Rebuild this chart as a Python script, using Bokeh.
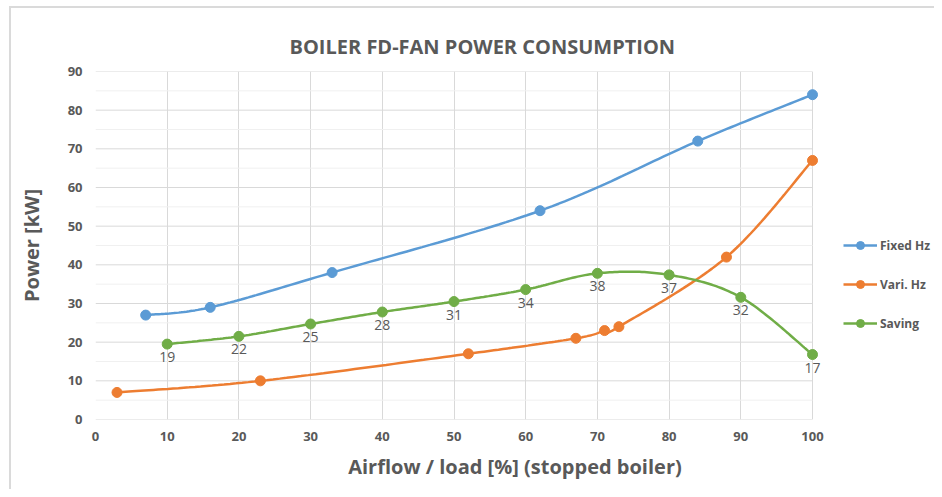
import numpy as np
from bokeh.plotting import figure
from bokeh.models import Legend, LegendItem, ColumnDataSource, LabelSet, FixedTicker, Range1d
from bokeh.core.properties import value
from bokeh.embed import file_html
from bokeh.resources import INLINE

fixed_x = [7, 16, 33, 62, 84, 100]
fixed_y = [27, 29, 38, 54, 72, 84]
vari_x = [3, 23, 52, 67, 71, 73, 88, 100]
vari_y = [7, 10, 17, 21, 23, 24, 42, 67]
saving_x = [10, 20, 30, 40, 50, 60, 70, 80, 90, 100]
saving_y = [19.5, 21.5, 24.7, 27.8, 30.5, 33.6, 37.8, 37.4, 31.6, 16.8]
saving_labels = ["19", "22", "25", "28", "31", "34", "38", "37", "32", "17"]
x_ticks = [0, 10, 20, 30, 40, 50, 60, 70, 80, 90, 100]
y_ticks = [0, 10, 20, 30, 40, 50, 60, 70, 80, 90]
y_minor = [5, 15, 25, 35, 45, 55, 65, 75, 85]

BLUE = "#5B9BD5"
ORANGE = "#ED7D31"
GREEN = "#70AD47"
GREY = "#595959"
FONT = "Open Sans"


def smooth(xs, ys, n=30):
    # Excel-style smoothed line: cubic Bezier with Catmull-Rom control points
    P = np.column_stack([xs, ys]).astype(float)
    P = np.vstack([P[0], P, P[-1]])
    out = []
    for i in range(1, len(P) - 2):
        p0, p1, p2, p3 = P[i - 1], P[i], P[i + 1], P[i + 2]
        c1 = p1 + (p2 - p0) / 6.0
        c2 = p2 - (p3 - p1) / 6.0
        t = np.linspace(0, 1, n)[:, None]
        seg = ((1 - t) ** 3) * p1 + 3 * ((1 - t) ** 2) * t * c1 + 3 * (1 - t) * t ** 2 * c2 + t ** 3 * p2
        out.append(seg if i == 1 else seg[1:])
    s = np.vstack(out)
    return s[:, 0], s[:, 1]


FRAME_W = 839
X_END = 100 * FRAME_W / 717.0  # extra room right of 100 for the legend and the last data label
p = figure(frame_width=FRAME_W, frame_height=348, output_backend="svg", toolbar_location=None,
           x_range=Range1d(0, X_END), y_range=Range1d(0, 90),
           min_border_left=95, min_border_right=0, min_border_top=71, min_border_bottom=70)
p.title.text = "BOILER FD-FAN POWER CONSUMPTION"
p.title.align = "left"
p.title.offset = 194
p.title.text_font = FONT
p.title.text_font_size = "20px"
p.title.text_font_style = "bold"
p.title.text_color = GREY
p.title.standoff = 23
p.outline_line_color = None

p.xaxis.ticker = FixedTicker(ticks=x_ticks)
p.yaxis.ticker = FixedTicker(ticks=y_ticks)
for ax in (p.xaxis[0], p.yaxis[0]):
    ax.major_tick_line_color = None
    ax.minor_tick_line_color = None
    ax.major_tick_out = 0
    ax.minor_tick_out = 0
    ax.axis_line_color = None
    ax.major_label_text_font = FONT
    ax.major_label_text_font_size = "13px"
    ax.major_label_text_font_style = "bold"
    ax.major_label_text_color = GREY
    ax.axis_label_text_font = FONT
    ax.axis_label_text_font_size = "20px"
    ax.axis_label_text_font_style = "bold"
    ax.axis_label_text_color = GREY
p.xaxis.axis_label = "Airflow / load [%] (stopped boiler)"
p.yaxis.axis_label = "Power [kW]"
p.xaxis.major_label_standoff = 12
p.yaxis.major_label_standoff = 13
p.xaxis.axis_label_standoff = 9
p.yaxis.axis_label_standoff = 20

p.xgrid.grid_line_color = "#d9d9d9"
p.ygrid.grid_line_color = None

# horizontal gridlines only across the 0..100 span
p.segment(x0=[0] * len(y_minor), x1=[100] * len(y_minor), y0=y_minor, y1=y_minor,
          line_color="#f0f0f0", line_width=1)
p.segment(x0=[0] * len(y_ticks), x1=[100] * len(y_ticks), y0=y_ticks, y1=y_ticks,
          line_color="#d9d9d9", line_width=1)

items = []
for name, xs, ys, col in [("Fixed Hz", fixed_x, fixed_y, BLUE),
                          ("Vari. Hz", vari_x, vari_y, ORANGE),
                          ("Saving", saving_x, saving_y, GREEN)]:
    sx, sy = smooth(xs, ys)
    r1 = p.line(sx, sy, line_color=col, line_width=2.5)
    r2 = p.scatter(xs, ys, size=10, fill_color=col, line_color=col)
    items.append(LegendItem(label=name, renderers=[r1, r2]))

src = ColumnDataSource(dict(x=saving_x, y=saving_y, t=saving_labels))
p.add_layout(LabelSet(x="x", y="y", text="t", source=src, text_align="center", text_baseline="top",
                      y_offset=-8, text_font=value(FONT), text_font_size="14px", text_color=GREY))

legend = Legend(items=items, location=(748, 86), border_line_color=None, background_fill_alpha=0,
                label_text_font=FONT, label_text_font_size="12px", label_text_font_style="bold",
                label_text_color=GREY, glyph_width=34, glyph_height=20, spacing=19, label_standoff=3,
                padding=0, margin=0)
p.add_layout(legend, "center")

# light chart-area border along the top and left edges
p.border_fill_color = None
p.styles = {
    "background": "linear-gradient(#dadada, #dadada) 9px 6px / 2px 100% no-repeat, "
                  "linear-gradient(#dadada, #dadada) 9px 6px / 100% 2px no-repeat, white"
}

open("out.html", "w").write(file_html(p, INLINE))
